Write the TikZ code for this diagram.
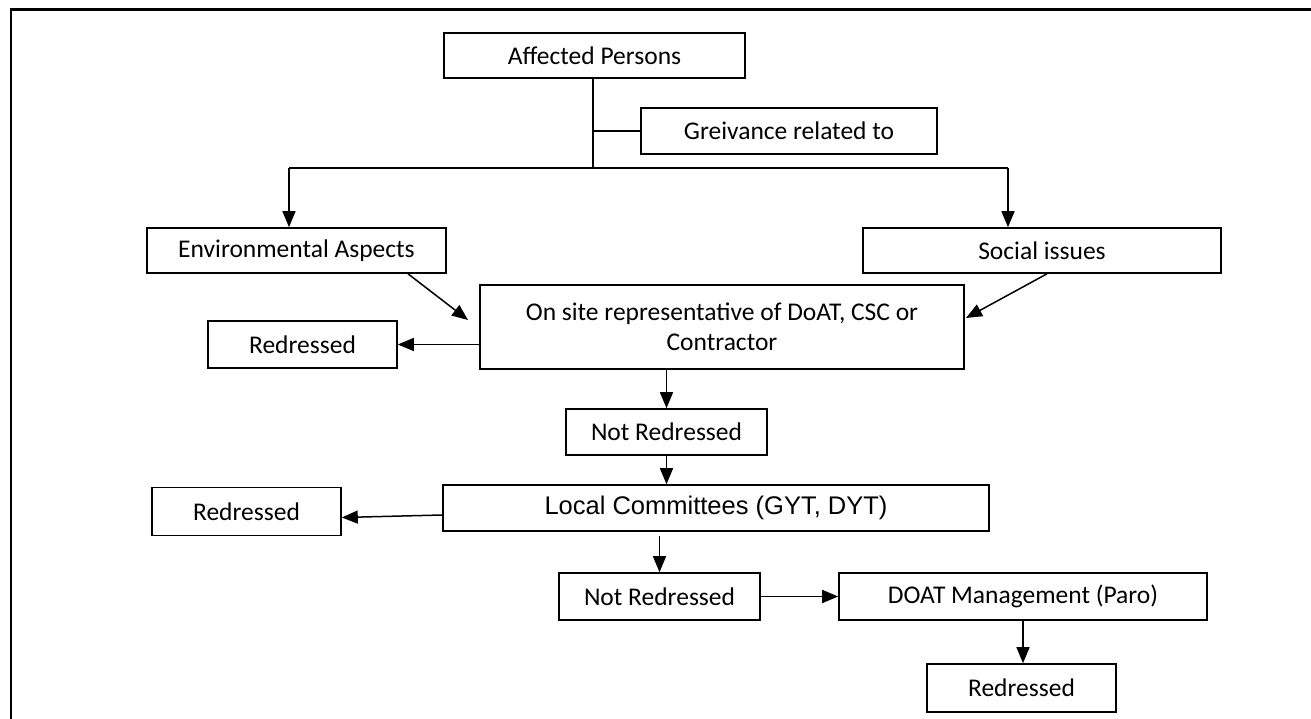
\documentclass[tikz,border=0pt]{standalone}
\usepackage{fontspec}
\setmainfont{Carlito}
\newfontfamily\arialf{Liberation Sans}
\usetikzlibrary{arrows.meta}
\tikzset{
  box/.style={draw, line width=1.6pt, inner sep=0pt, align=center,
    font=\fontsize{25.5}{30}\selectfont},
  arr/.style={line width=1.5pt, -{Triangle[length=16pt,width=13pt]}},
  conn/.style={line width=1.5pt},
  frame/.style={line width=2.2pt}
}
\begin{document}
\begin{tikzpicture}[x=1pt,y=-1pt]
\useasboundingbox (0,0) rectangle (1311,719);
\fill[white] (0,0) rectangle (1311,719);
% frame
\coordinate (fb) at (11,719);
\coordinate (fc) at (11,9.5);
\coordinate (fr) at (1311,9.5);
\draw[frame] (fb) -- (fc) -- (fr);

% nodes
\node[box, minimum width=301pt, minimum height=45pt] (ap) at (594.5,55.5) {Affected Persons};
\node[box, minimum width=296pt, minimum height=46pt] (gr) at (789,131) {Greivance related to};
\node[box, minimum width=299pt, minimum height=45pt] (env) at (296.5,250.5) {Environmental Aspects};
\node[box, minimum width=358pt, minimum height=45pt] (soc) at (1042,250.5) {Social issues};
\node[box, minimum width=484pt, minimum height=84pt] (os) at (722,327) {On site representative of DoAT, CSC or\\Contractor};
\node[box, minimum width=189pt, minimum height=47pt] (r1) at (302.5,344.5) {Redressed};
\node[box, minimum width=201pt, minimum height=46pt] (nr1) at (666.5,432) {Not Redressed};
\node[box, minimum width=546pt, minimum height=46pt, font=\arialf\fontsize{25.5}{30}\selectfont] (lc) at (716,508) {Local Committees (GYT, DYT)};
\node[box, minimum width=189pt, minimum height=48pt] (r2) at (246.5,511.5) {Redressed};
\node[box, minimum width=201pt, minimum height=47pt] (nr2) at (659.5,596.5) {Not Redressed};
\node[box, minimum width=368pt, minimum height=47pt] (doat) at (1023,596.5) {DOAT Management (Paro)};
\node[box, minimum width=189pt, minimum height=48pt] (r3) at (1021.5,688) {Redressed};

% junction coordinates
\coordinate (j1) at (593,168);
\coordinate (hl) at (289,168);
\coordinate (hr) at (1008,168);
\coordinate (t1) at (468,320);
\coordinate (t2) at (966,318);
\coordinate (s1) at (408,273);
\coordinate (s2) at (1047,273);

% connectors
\draw[conn] (ap.south -| j1) -- (j1);
\draw[conn] (j1 |- gr.west) -- (gr.west);
\draw[conn] (hl) -- (hr);
\draw[arr] (hl) -- (env.north -| hl);
\draw[arr] (hr) -- (soc.north -| hr);
\draw[arr] (env.south -| s1) -- (t1);
\draw[arr] (soc.south -| s2) -- (t2);
\draw[arr] (os.west |- r1.east) -- (r1.east);
\draw[arr] (nr1.north |- os.south) -- (nr1.north);
\draw[arr] (nr1.south) -- (nr1.south |- lc.north);
\draw[arr] ([yshift=-7pt]lc.west) -- ([yshift=-6pt]r2.east);
\draw[arr] ([yshift=-4pt]nr2.north |- lc.south) -- (nr2.north);
\draw[arr] (nr2.east) -- (doat.west);
\draw[arr] (doat.south) -- (doat.south |- r3.north);
\end{tikzpicture}
\end{document}
